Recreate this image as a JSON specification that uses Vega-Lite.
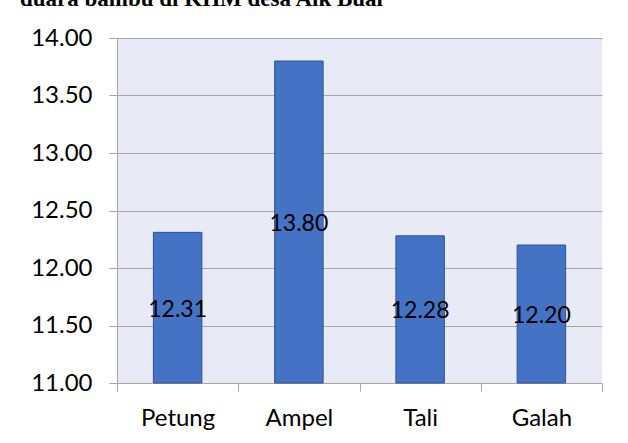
{
  "$schema": "https://vega.github.io/schema/vega-lite/v6.json",
  "autosize": "none",
  "width": 485,
  "height": 345,
  "padding": {"left": 117, "top": 38, "right": 26, "bottom": 60},
  "background": "white",
  "title": {
    "text": "duara bambu di KHM desa Aik Bual",
    "anchor": "start",
    "frame": "group",
    "orient": "top",
    "font": "Liberation Serif",
    "fontSize": 23,
    "fontWeight": "bold",
    "color": "#000000",
    "baseline": "alphabetic",
    "offset": 0,
    "dx": -97,
    "dy": 3
  },
  "data": {
    "values": [
      {"kategori": "Petung", "nilai": 12.31},
      {"kategori": "Ampel", "nilai": 13.80},
      {"kategori": "Tali", "nilai": 12.28},
      {"kategori": "Galah", "nilai": 12.20}
    ]
  },
  "config": {
    "view": {"stroke": null, "fill": "#E8EBF5"},
    "axis": {"labelFont": "Lato", "labelColor": "#000000"}
  },
  "encoding": {
    "x": {
      "field": "kategori",
      "type": "nominal",
      "sort": null,
      "scale": {"paddingInner": 0, "paddingOuter": 0},
      "axis": {
        "title": null,
        "labelAngle": 0,
        "labelFontSize": 24,
        "labelPadding": 15,
        "tickBand": "extent",
        "tickSize": 8,
        "tickColor": "#A6A6A6",
        "domainColor": "#A6A6A6",
        "grid": false
      }
    }
  },
  "layer": [
    {
      "mark": {"type": "bar", "width": {"band": 0.4}, "fill": "#4472C4", "stroke": "#2F5597", "strokeWidth": 1},
      "encoding": {
        "y": {
          "field": "nilai",
          "type": "quantitative",
          "scale": {"domain": [11, 14], "nice": false, "zero": false},
          "axis": {
            "title": null,
            "values": [11, 11.5, 12, 12.5, 13, 13.5, 14],
            "format": ".2f",
            "labelFontSize": 24,
            "labelPadding": 17,
            "tickSize": 8,
            "tickColor": "#A6A6A6",
            "domainColor": "#A6A6A6",
            "grid": true,
            "gridColor": "#A6A6A6",
            "gridWidth": 1
          }
        },
        "y2": {"datum": 11}
      }
    },
    {
      "transform": [{"calculate": "(datum.nilai + 11) / 2", "as": "tengah"}],
      "mark": {"type": "text", "font": "Lato", "fontSize": 23, "color": "#000000", "baseline": "middle", "align": "center", "dy": 2},
      "encoding": {
        "y": {"field": "tengah", "type": "quantitative"},
        "text": {"field": "nilai", "type": "quantitative", "format": ".2f"}
      }
    }
  ]
}
